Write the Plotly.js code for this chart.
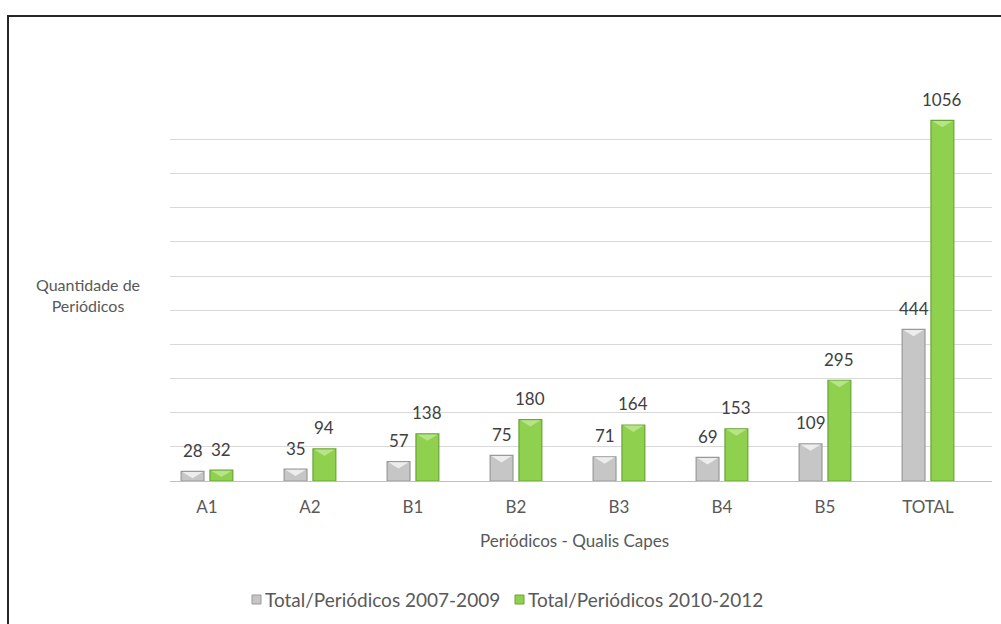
<!DOCTYPE html>
<html>
<head>
<meta charset="utf-8">
<script src="https://cdn.plot.ly/plotly-3.0.1.min.js"></script>
<style>
  html, body { margin: 0; padding: 0; background: #ffffff; overflow: hidden; }
  #chart { width: 1001px; height: 624px; }
</style>
</head>
<body>
<div id="chart"></div>
<script>
// Journal counts per Qualis Capes stratum, two evaluation periods
const categories = ['A1', 'A2', 'B1', 'B2', 'B3', 'B4', 'B5', 'TOTAL'];
const periodicos20072009 = [28, 35, 57, 75, 71, 69, 109, 444];
const periodicos20102012 = [32, 94, 138, 180, 164, 153, 295, 1056];
const seriesNames = ['Total/Periódicos 2007-2009', 'Total/Periódicos 2010-2012'];

const FONT = 'Lato, "Open Sans", sans-serif';
const TEXT = '#595959';
const GRAY = '#c6c6c6', GRAY_EDGE = '#999999', GRAY_HI = '#ededed';
const GREEN = '#8fd14f', GREEN_EDGE = '#68a534', GREEN_HI = '#b6e486';

// plot area in pixels (used to place the free-standing text and frame)
const W = 1001, H = 624;
const M = { l: 170, r: 9, t: 105, b: 143 };
const PW = W - M.l - M.r, PH = H - M.t - M.b;
const px = x => (x - M.l) / PW;
const py = y => (H - M.b - y) / PH;
const Y_MAX = 1101;
const UNITS_PER_PX = Y_MAX / PH;

const BAR_W = 0.222, GAP = 0.029;
const idx = categories.map((_, i) => i);

const series = [
  { name: seriesNames[0], values: periodicos20072009, offset: -GAP - BAR_W,
    color: GRAY, edge: GRAY_EDGE, hi: GRAY_HI },
  { name: seriesNames[1], values: periodicos20102012, offset: GAP,
    color: GREEN, edge: GREEN_EDGE, hi: GREEN_HI }
];

const traces = series.map(s => ({
  type: 'bar', name: s.name, x: idx, y: s.values,
  width: BAR_W, offset: s.offset,
  marker: { color: s.color, line: { color: s.edge, width: 1.2 } },
  hoverinfo: 'x+y'
}));

const shapes = [];
const annotations = [];
const labelFont = { family: FONT, size: 17, color: '#404040' };

series.forEach(s => {
  s.values.forEach((v, i) => {
    const x0 = i + s.offset, x1 = x0 + BAR_W, xc = (x0 + x1) / 2;
    // bevelled top: light chevron under the bar's upper edge
    const depth = Math.min(7 * UNITS_PER_PX, v * 0.7);
    const inset = 0.012;
    shapes.push({
      type: 'path', xref: 'x', yref: 'y', layer: 'above',
      path: `M ${x0 + inset} ${v - 0.6 * UNITS_PER_PX} L ${x1 - inset} ${v - 0.6 * UNITS_PER_PX} L ${xc} ${v - depth} Z`,
      fillcolor: s.hi, line: { width: 0 }
    });
    annotations.push({
      x: xc, y: v, xref: 'x', yref: 'y', text: String(v),
      showarrow: false, xanchor: 'center', yanchor: 'middle', yshift: 21,
      font: labelFont
    });
  });
});

// axis titles
annotations.push({
  xref: 'paper', yref: 'paper', x: px(88), y: py(295),
  xanchor: 'center', yanchor: 'middle',
  text: 'Quantidade de<br>Periódicos', showarrow: false,
  align: 'center', font: { family: FONT, size: 16, color: TEXT }
});
annotations.push({
  xref: 'paper', yref: 'paper', x: px(574), y: py(540),
  xanchor: 'center', yanchor: 'middle',
  text: 'Periódicos - Qualis Capes', showarrow: false,
  font: { family: FONT, size: 17, color: TEXT }
});

// legend entries
const legendItems = [
  { sx: 252, tx: 263, s: series[0] },
  { sx: 515, tx: 526, s: series[1] }
];
legendItems.forEach(it => {
  annotations.push({
    xref: 'paper', yref: 'paper', x: px(it.tx), y: py(599),
    xanchor: 'left', yanchor: 'middle', text: it.s.name, showarrow: false,
    font: { family: FONT, size: 19, color: TEXT }
  });
  shapes.push({
    type: 'rect', xref: 'paper', yref: 'paper',
    x0: px(it.sx), x1: px(it.sx + 9), y0: py(604), y1: py(595),
    fillcolor: it.s.color, line: { color: it.s.edge, width: 1 }
  });
});

// outer frame of the chart: left and top edges
shapes.push({
  type: 'path', xref: 'paper', yref: 'paper', layer: 'above',
  path: `M ${px(1001)} ${py(16)} L ${px(8)} ${py(16)} L ${px(8)} ${py(624)}`,
  line: { color: '#262626', width: 2 }
});

const layout = {
  width: W, height: H,
  margin: M,
  paper_bgcolor: '#ffffff', plot_bgcolor: '#ffffff',
  showlegend: false,
  barmode: 'overlay',
  font: { family: FONT, color: TEXT },
  xaxis: {
    type: 'linear',
    range: [-0.359, -0.359 + PW / 103],
    tickvals: idx, ticktext: categories,
    tickfont: { family: FONT, size: 17, color: TEXT },
    ticks: '', ticklabelstandoff: 11,
    showgrid: false, zeroline: false,
    showline: true, linecolor: '#bfbfbf', linewidth: 1
  },
  yaxis: {
    range: [0, Y_MAX], dtick: 100,
    showticklabels: false, ticks: '',
    showgrid: true, gridcolor: '#d9d9d9', gridwidth: 1,
    zeroline: false, showline: false
  },
  annotations: annotations,
  shapes: shapes
};

Plotly.newPlot('chart', traces, layout, { displayModeBar: false, staticPlot: true });
</script>
</body>
</html>
